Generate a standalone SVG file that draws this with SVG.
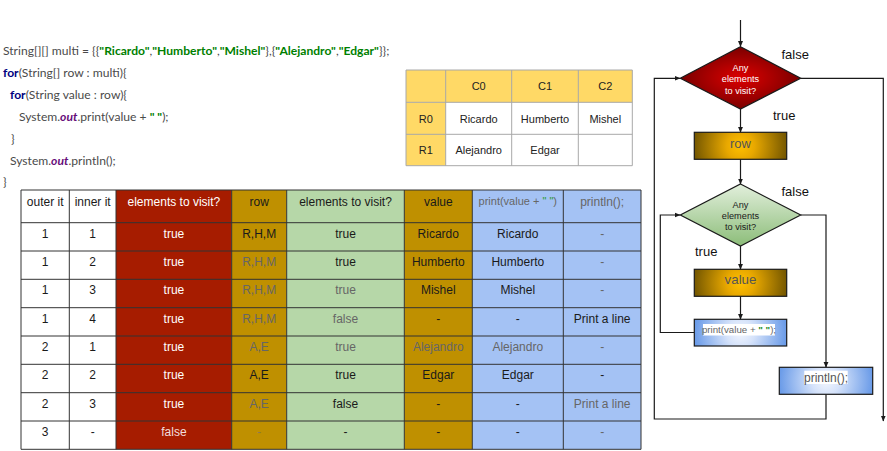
<svg xmlns="http://www.w3.org/2000/svg" width="887" height="451" viewBox="0 0 887 451">
<style>
.code{font-family:Lato,"Liberation Sans",sans-serif;font-size:12.1px;fill:#4a4a4a}
.kw{font-weight:bold;fill:#000080}
.str{font-weight:bold;fill:#008000}
.out{font-weight:bold;font-style:italic;fill:#660e7a}
.t{font-family:"Liberation Sans",Arial,sans-serif;font-size:12px;text-anchor:middle}
.st{font-family:"Liberation Sans",Arial,sans-serif;font-size:11px;text-anchor:middle;fill:#222}
.b{fill:#1a1a1a}
.g{fill:#666}
.lg{fill:#8a7a50}
.w{fill:#ffffff}
.fl{font-family:"Liberation Sans",Arial,sans-serif;font-size:13px;fill:#111}
.dt{font-family:"Liberation Sans",Arial,sans-serif;font-size:9.2px;text-anchor:middle}
.grid{stroke:#333;stroke-width:1;fill:none}
.sgrid{stroke:#a8a8a8;stroke-width:1;fill:none}
.conn{stroke:#1a1a1a;stroke-width:1.2;fill:none}
.box{stroke:#1a1a1a;stroke-width:1.2}
</style>
<defs>
<marker id="arr" markerUnits="userSpaceOnUse" markerWidth="6" markerHeight="6" refX="5.5" refY="3" orient="auto">
<path d="M0,0.5 L6,3 L0,5.5 z" fill="#1a1a1a"/>
</marker>
<radialGradient id="red" cx="50%" cy="50%" r="50%">
<stop offset="0" stop-color="#dd0000"/>
<stop offset="1" stop-color="#7a0000"/>
</radialGradient>
<radialGradient id="gold" cx="0.5" cy="0.5" r="0.5" gradientTransform="translate(0.5 0.5) scale(1 3.4) translate(-0.5 -0.5)">
<stop offset="0" stop-color="#ffc000"/>
<stop offset="0.3" stop-color="#e8a800"/>
<stop offset="1" stop-color="#765800"/>
</radialGradient>
<linearGradient id="green" x1="0" y1="0" x2="0" y2="1">
<stop offset="0" stop-color="#e2efdc"/>
<stop offset="1" stop-color="#8cbd79"/>
</linearGradient>
<radialGradient id="blue" cx="0.5" cy="0.5" r="0.5" gradientTransform="translate(0.5 0.5) scale(1 3.4) translate(-0.5 -0.5)">
<stop offset="0" stop-color="#f2f6fe"/>
<stop offset="0.3" stop-color="#d6e3fa"/>
<stop offset="1" stop-color="#6a9be8"/>
</radialGradient>
</defs>
<rect width="887" height="451" fill="#ffffff"/>

<g id="code">
<text class="code" x="3" y="55">String[][] multi = {{<tspan class="str">"Ricardo"</tspan>,<tspan class="str">"Humberto"</tspan>,<tspan class="str">"Mishel"</tspan>},{<tspan class="str">"Alejandro"</tspan>,<tspan class="str">"Edgar"</tspan>}};</text>
<text class="code" x="3" y="77"><tspan class="kw">for</tspan>(String[] row : multi){</text>
<text class="code" x="10" y="99"><tspan class="kw">for</tspan>(String value : row){</text>
<text class="code" x="19" y="121">System.<tspan class="out">out</tspan>.print(value + <tspan class="str">" "</tspan>);</text>
<text class="code" x="11" y="143">}</text>
<text class="code" x="10" y="165">System.<tspan class="out">out</tspan>.println();</text>
<text class="code" x="3" y="186">}</text>
</g>

<g id="array-table">
<rect x="406" y="70" width="226.3" height="32.3" fill="#ffd966"/>
<rect x="406" y="102.3" width="39.7" height="63.4" fill="#ffd966"/>
<path class="sgrid" d="M406,70 H632.3 M406,102.3 H632.3 M406,134.3 H632.3 M406,165.7 H632.3 M406,70 V165.7 M445.7,70 V165.7 M511.7,70 V165.7 M578.3,70 V165.7 M632.3,70 V165.7"/>
<text class="st" x="478.7" y="90">C0</text>
<text class="st" x="545" y="90">C1</text>
<text class="st" x="605.3" y="90">C2</text>
<text class="st" x="425.8" y="122.5">R0</text>
<text class="st" x="478.7" y="122.5">Ricardo</text>
<text class="st" x="545" y="122.5">Humberto</text>
<text class="st" x="605.3" y="122.5">Mishel</text>
<text class="st" x="425.8" y="154">R1</text>
<text class="st" x="478.7" y="154">Alejandro</text>
<text class="st" x="545" y="154">Edgar</text>
</g>

<g id="trace-table">
<rect x="116" y="190" width="115.7" height="259.3" fill="#a61c00"/>
<rect x="231.7" y="190" width="55" height="259.3" fill="#bf9000"/>
<rect x="286.7" y="190" width="117.6" height="259.3" fill="#b6d7a8"/>
<rect x="404.3" y="190" width="68" height="259.3" fill="#bf9000"/>
<rect x="472.3" y="190" width="168.7" height="259.3" fill="#a4c2f4"/>
<path class="grid" d="M21,190 H641 M21,222.7 H641 M21,251 H641 M21,279.3 H641 M21,307.7 H641 M21,336 H641 M21,364.3 H641 M21,392.7 H641 M21,421 H641 M21,449.3 H641 M21,190 V449.3 M69.3,190 V449.3 M116,190 V449.3 M231.7,190 V449.3 M286.7,190 V449.3 M404.3,190 V449.3 M472.3,190 V449.3 M563.3,190 V449.3 M641,190 V449.3"/>
<text class="t b" x="45.2" y="206">outer it</text>
<text class="t b" x="92.7" y="206">inner it</text>
<text class="t w" x="173.9" y="206">elements to visit?</text>
<text class="t b" x="259.2" y="206">row</text>
<text class="t b" x="345.5" y="206">elements to visit?</text>
<text class="t b" x="438.3" y="206">value</text>
<text class="t g" x="517.8" y="205" style="font-size:11px">print(value + <tspan fill="#2e9a2e">" "</tspan>)</text>
<text class="t g" x="602.2" y="206">println();</text>

<text class="t b" x="45.2" y="237.7">1</text><text class="t b" x="92.7" y="237.7">1</text><text class="t w" x="173.9" y="237.7">true</text><text class="t b" x="259.2" y="237.7">R,H,M</text><text class="t b" x="345.5" y="237.7">true</text><text class="t b" x="438.3" y="237.7">Ricardo</text><text class="t b" x="517.8" y="237.7">Ricardo</text><text class="t g" x="602.2" y="237.7">-</text>
<text class="t b" x="45.2" y="266">1</text><text class="t b" x="92.7" y="266">2</text><text class="t w" x="173.9" y="266">true</text><text class="t g" x="259.2" y="266">R,H,M</text><text class="t b" x="345.5" y="266">true</text><text class="t b" x="438.3" y="266">Humberto</text><text class="t b" x="517.8" y="266">Humberto</text><text class="t g" x="602.2" y="266">-</text>
<text class="t b" x="45.2" y="294.3">1</text><text class="t b" x="92.7" y="294.3">3</text><text class="t w" x="173.9" y="294.3">true</text><text class="t g" x="259.2" y="294.3">R,H,M</text><text class="t g" x="345.5" y="294.3">true</text><text class="t b" x="438.3" y="294.3">Mishel</text><text class="t b" x="517.8" y="294.3">Mishel</text><text class="t g" x="602.2" y="294.3">-</text>
<text class="t b" x="45.2" y="322.7">1</text><text class="t b" x="92.7" y="322.7">4</text><text class="t w" x="173.9" y="322.7">true</text><text class="t g" x="259.2" y="322.7">R,H,M</text><text class="t g" x="345.5" y="322.7">false</text><text class="t b" x="438.3" y="322.7">-</text><text class="t b" x="517.8" y="322.7">-</text><text class="t b" x="602.2" y="322.7">Print a line</text>
<text class="t b" x="45.2" y="351">2</text><text class="t b" x="92.7" y="351">1</text><text class="t w" x="173.9" y="351">true</text><text class="t g" x="259.2" y="351">A,E</text><text class="t g" x="345.5" y="351">true</text><text class="t g" x="438.3" y="351">Alejandro</text><text class="t g" x="517.8" y="351">Alejandro</text><text class="t g" x="602.2" y="351">-</text>
<text class="t b" x="45.2" y="379.3">2</text><text class="t b" x="92.7" y="379.3">2</text><text class="t w" x="173.9" y="379.3">true</text><text class="t b" x="259.2" y="379.3">A,E</text><text class="t b" x="345.5" y="379.3">true</text><text class="t b" x="438.3" y="379.3">Edgar</text><text class="t b" x="517.8" y="379.3">Edgar</text><text class="t b" x="602.2" y="379.3">-</text>
<text class="t b" x="45.2" y="407.7">2</text><text class="t b" x="92.7" y="407.7">3</text><text class="t w" x="173.9" y="407.7">true</text><text class="t g" x="259.2" y="407.7">A,E</text><text class="t b" x="345.5" y="407.7">false</text><text class="t b" x="438.3" y="407.7">-</text><text class="t b" x="517.8" y="407.7">-</text><text class="t g" x="602.2" y="407.7">Print a line</text>
<text class="t b" x="45.2" y="436">3</text><text class="t b" x="92.7" y="436">-</text><text class="t" x="173.9" y="436" fill="#f2dede">false</text><text class="t lg" x="259.2" y="436">-</text><text class="t b" x="345.5" y="436">-</text><text class="t b" x="438.3" y="436">-</text><text class="t b" x="517.8" y="436">-</text><text class="t g" x="602.2" y="436">-</text>
</g>

<g id="connectors">
<path class="conn" d="M740.5,20 V46.5" marker-end="url(#arr)"/>
<path class="conn" d="M740.5,109 V132.3" marker-end="url(#arr)"/>
<path class="conn" d="M740.5,159.3 V184" marker-end="url(#arr)"/>
<path class="conn" d="M740.5,246 V269.3" marker-end="url(#arr)"/>
<path class="conn" d="M740.5,296.3 V319.3" marker-end="url(#arr)"/>
<path class="conn" d="M694.3,332.5 H660.3 V215 H680" marker-end="url(#arr)"/>
<path class="conn" d="M800.7,215 H826 V367.3" marker-end="url(#arr)"/>
<path class="conn" d="M826,394.3 V419 H654.3 V78.3 H680" marker-end="url(#arr)"/>
<path class="conn" d="M800.7,78.3 H883.3 V421" marker-end="url(#arr)"/>
</g>

<g id="outer-decision">
<polygon class="box" points="740.5,46.7 800.7,78.3 740.5,109 680.3,78.3" fill="url(#red)"/>
<text class="dt w" x="740.5" y="70.5">Any</text>
<text class="dt w" x="740.5" y="82">elements</text>
<text class="dt w" x="740.5" y="93.5">to visit?</text>
</g>
<g id="label-false-1"><text class="fl" x="781.5" y="58.5">false</text></g>
<g id="label-true-1"><text class="fl" x="773" y="119.5">true</text></g>

<g id="row-box">
<rect class="box" x="694.3" y="132.3" width="92.4" height="27" fill="url(#gold)"/>
<text x="740.5" y="147.5" text-anchor="middle" style="font-family:'Liberation Sans',Arial,sans-serif;font-size:13px;fill:#555">row</text>
</g>

<g id="inner-decision">
<polygon class="box" points="740.5,184 800.7,215 740.5,246 680.3,215" fill="url(#green)"/>
<text class="dt b" x="740.5" y="207.5">Any</text>
<text class="dt b" x="740.5" y="218.5">elements</text>
<text class="dt b" x="740.5" y="229.5">to visit?</text>
</g>
<g id="label-false-2"><text class="fl" x="781.5" y="195.5">false</text></g>
<g id="label-true-2"><text class="fl" x="695" y="256">true</text></g>

<g id="value-box">
<rect class="box" x="694.3" y="269.3" width="92.4" height="27" fill="url(#gold)"/>
<text x="740.5" y="284" text-anchor="middle" style="font-family:'Liberation Sans',Arial,sans-serif;font-size:13.3px;fill:#555">value</text>
</g>

<g id="print-box">
<rect class="box" x="694.3" y="319.3" width="92.4" height="26.7" fill="url(#blue)"/>
<rect x="703" y="324" width="72" height="11.5" fill="#ffffff"/>
<text x="739" y="333.3" text-anchor="middle" style="font-family:'Liberation Sans',Arial,sans-serif;font-size:9.7px;fill:#666">print(value + <tspan fill="#1c8a1c" font-weight="bold">" "</tspan>);</text>
</g>

<g id="println-box">
<rect class="box" x="779.3" y="367.3" width="93.4" height="27" fill="url(#blue)"/>
<rect x="804.3" y="370.7" width="43.4" height="13.3" fill="#ffffff"/>
<text x="826" y="381.5" text-anchor="middle" style="font-family:'Liberation Sans',Arial,sans-serif;font-size:12px;fill:#555">println();</text>
</g>
</svg>
